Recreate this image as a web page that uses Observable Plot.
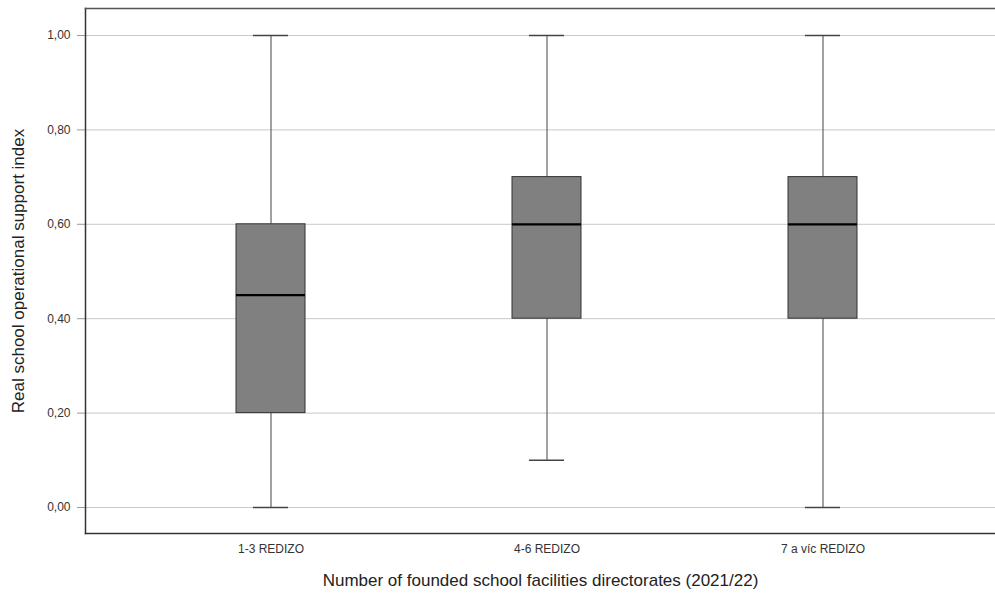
<!DOCTYPE html>
<html>
<head>
<meta charset="utf-8">
<script src="https://cdn.jsdelivr.net/npm/d3@7"></script>
<script src="https://cdn.jsdelivr.net/npm/@observablehq/plot@0.6"></script>
<style>
  html, body { margin: 0; padding: 0; background: #fff; }
  svg { display: block; }
</style>
</head>
<body>
<div id="chart"></div>
<script>
const categories = ["1-3 REDIZO", "4-6 REDIZO", "7 a víc REDIZO"];
const minValues = [0.0, 0.1, 0.0];
const q1Values = [0.2, 0.4, 0.4];
const medianValues = [0.45, 0.6, 0.6];
const q3Values = [0.6, 0.7, 0.7];
const maxValues = [1.0, 1.0, 1.0];
const yTicks = [0, 0.2, 0.4, 0.6, 0.8, 1.0];

const data = categories.map((c, i) => ({
  cat: c, min: minValues[i], q1: q1Values[i], med: medianValues[i], q3: q3Values[i], max: maxValues[i]
}));

const fmt = d => d.toFixed(2).replace(".", ",");
const font = "'Liberation Sans', Arial, sans-serif";

const chart = Plot.plot({
  width: 995,
  height: 595,
  marginTop: 8,
  marginBottom: 62,
  marginLeft: 85,
  marginRight: 0,
  style: { fontFamily: font, fontSize: "12px", color: "#333", background: "#fff" },
  x: { type: "band", domain: categories, range: [28.5, 1063.5], padding: 0.75 },
  y: { domain: [-0.0551, 1.0572], range: [533, 8] },
  marks: [
    Plot.ruleY(yTicks, { stroke: "#c8c8c8", strokeWidth: 1 }),
    Plot.axisY({ ticks: yTicks, tickFormat: fmt, tickSize: 8, tickPadding: 7, stroke: "#999", fill: "#333", label: null, fontSize: 12 }),
    Plot.axisX({ tickSize: 0, tickPadding: 11, fill: "#333", label: null, fontSize: 12 }),
    Plot.ruleX(data, { x: "cat", y1: "min", y2: "q1", stroke: "#444", strokeWidth: 1 }),
    Plot.ruleX(data, { x: "cat", y1: "q3", y2: "max", stroke: "#444", strokeWidth: 1 }),
    Plot.tickY(data, { x: "cat", y: "min", stroke: "#444", strokeWidth: 1.5, insetLeft: 17, insetRight: 17 }),
    Plot.tickY(data, { x: "cat", y: "max", stroke: "#444", strokeWidth: 1.5, insetLeft: 17, insetRight: 17 }),
    Plot.barY(data, { x: "cat", y1: "q1", y2: "q3", fill: "#808080", stroke: "#333", strokeWidth: 1 }),
    Plot.tickY(data, { x: "cat", y: "med", stroke: "#000", strokeWidth: 2.2 }),
    Plot.frame({ anchor: "left", stroke: "#333", strokeWidth: 1.5 }),
    Plot.frame({ anchor: "top", stroke: "#555", strokeWidth: 1.5 }),
    Plot.frame({ anchor: "bottom", stroke: "#333", strokeWidth: 1.5 }),
    Plot.text(["Real school operational support index"], {
      frameAnchor: "left", dx: -67, rotate: -90, textAnchor: "middle",
      fontSize: 17, fill: "#222", fontFamily: font
    }),
    Plot.text(["Number of founded school facilities directorates (2021/22)"], {
      frameAnchor: "bottom", dy: 47, textAnchor: "middle", lineAnchor: "middle",
      fontSize: 17, fill: "#222", fontFamily: font
    })
  ]
});
document.getElementById("chart").appendChild(chart);
</script>
</body>
</html>
